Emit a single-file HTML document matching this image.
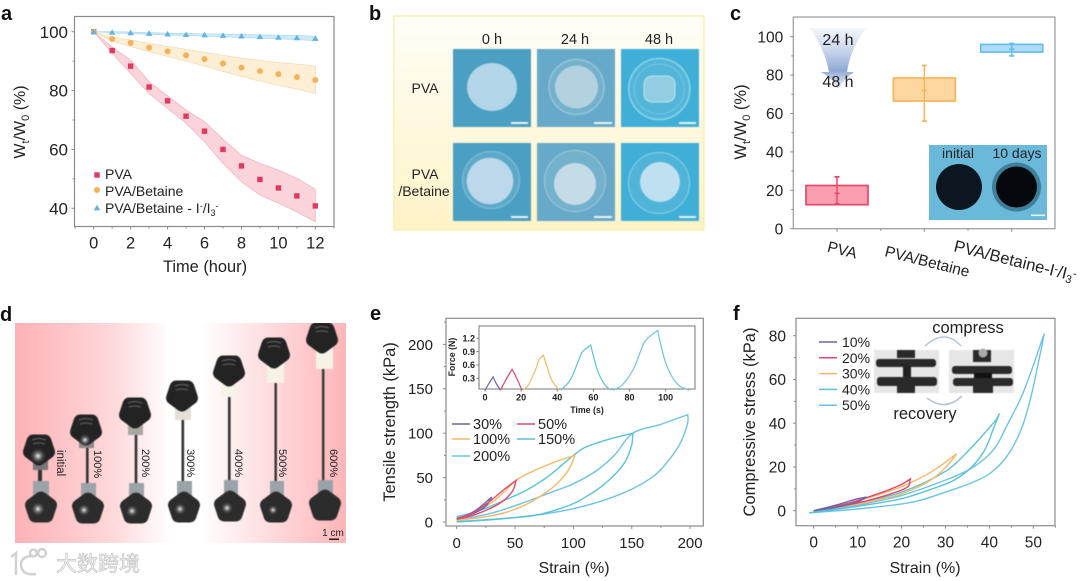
<!DOCTYPE html>
<html lang="en">
<head>
<meta charset="utf-8">
<title>Hydrogel figure</title>
<style>
html,body{margin:0;padding:0;background:#fff;}
svg{display:block;font-family:"Liberation Sans","Noto Sans CJK SC",sans-serif;fill:#222;}
.lbl{font-weight:700;font-size:20px;fill:#111;}
.pt{font-size:14.5px;fill:#222;}
.soft{filter:blur(.6px);}
</style>
</head>
<body>
<svg id="fig" xmlns="http://www.w3.org/2000/svg" width="1080" height="581" viewBox="0 0 1080 581">
<defs>
<linearGradient id="bgB" x1="0" y1="0" x2="0" y2="1"><stop offset="0" stop-color="#fffef8"/><stop offset="1" stop-color="#fff3c6"/></linearGradient>
<linearGradient id="bgD" x1="0" y1="0" x2="1" y2="0"><stop offset="0" stop-color="#fdb2b6"/><stop offset=".3" stop-color="#fed9db"/><stop offset=".47" stop-color="#fff"/><stop offset=".56" stop-color="#fff"/><stop offset="1" stop-color="#fdb5b9"/></linearGradient>
<linearGradient id="funnel" x1="0" y1="0" x2="0" y2="1"><stop offset="0" stop-color="#e4eaf6" stop-opacity=".5"/><stop offset=".7" stop-color="#8ea8d4"/><stop offset="1" stop-color="#d2dcf0" stop-opacity=".5"/></linearGradient>
<radialGradient id="glow"><stop offset="0" stop-color="#fff"/><stop offset=".35" stop-color="#aaa" stop-opacity=".7"/><stop offset="1" stop-color="#444" stop-opacity="0"/></radialGradient>
<g id="knob"><polygon points="0,-10 9.5,-3 5.9,8 -5.9,8 -9.5,-3" fill="#2c2c2c" stroke="#2c2c2c" stroke-width="13" stroke-linejoin="round"/></g>
<g id="knobTop"><polygon points="0,10 9.5,3 5.9,-8 -5.9,-8 -9.5,3" fill="#232323" stroke="#232323" stroke-width="13" stroke-linejoin="round"/><path d="M-7,-9 Q0,-12 7,-9 M-6,-5 Q0,-7 6,-5" stroke="#666" stroke-width="1.1" fill="none"/></g>
</defs>

<!-- panel labels -->
<text class="lbl" x="1" y="20">a</text>
<text class="lbl" x="369" y="20">b</text>
<text class="lbl" x="730" y="20">c</text>
<text class="lbl" x="0" y="321">d</text>
<text class="lbl" x="370" y="320">e</text>
<text class="lbl" x="733" y="320">f</text>

<!-- panel b photos -->
<g>
<rect x="394" y="16" width="310" height="214" fill="url(#bgB)" stroke="#fbeeb0" stroke-width="1.5"/>
<text class="pt" x="492" y="44" text-anchor="middle">0 h</text>
<text class="pt" x="575" y="44" text-anchor="middle">24 h</text>
<text class="pt" x="659" y="44" text-anchor="middle">48 h</text>
<text class="pt" x="425" y="93" text-anchor="middle" style="font-size:14px">PVA</text>
<text class="pt" x="425" y="179" text-anchor="middle" style="font-size:14px">PVA</text>
<text class="pt" x="424" y="196" text-anchor="middle" style="font-size:14px">/Betaine</text>

<g class="soft">
<g><rect x="453" y="49" width="78" height="78" fill="#4b9fc3"/><ellipse cx="492" cy="87" rx="25" ry="24" fill="#b2d6e8"/><rect x="511" y="122" width="17" height="2" fill="#e6f3f8"/></g>
<g><rect x="537" y="49" width="78" height="78" fill="#66a9c8"/><circle cx="576.5" cy="87" r="27.5" fill="#74b1cd" stroke="#96c6da" stroke-width="1.5"/><circle cx="576.5" cy="87" r="21.5" fill="#b3d2df"/><rect x="594" y="122" width="18" height="2" fill="#e6f3f8"/></g>
<g><rect x="621" y="49" width="78" height="78" fill="#3fafd7"/><circle cx="659.3" cy="89" r="30.5" fill="#52b5d9" stroke="#8fd3e8" stroke-width="1.5"/><circle cx="659.3" cy="89" r="25" fill="none" stroke="#78c8e2"/><rect x="644" y="76" width="31" height="26" rx="8" fill="#92cde2" stroke="#bfe4ef"/><rect x="679" y="122" width="17" height="2" fill="#e6f3f8"/></g>
<g><rect x="453" y="143" width="78" height="78" fill="#4b9fc3"/><circle cx="491" cy="180" r="28.5" fill="#5ea9ca" stroke="#86c1d8"/><circle cx="490" cy="181" r="23.3" fill="#bcd8ea"/><rect x="511" y="216" width="17" height="2" fill="#e6f3f8"/></g>
<g><rect x="537" y="143" width="78" height="78" fill="#66a9c8"/><circle cx="575" cy="181" r="30.5" fill="#74b1cd" stroke="#a0cadd"/><circle cx="575" cy="184" r="21" fill="#c5dce8"/><rect x="594" y="216" width="18" height="2" fill="#e6f3f8"/></g>
<g><rect x="621" y="143" width="78" height="78" fill="#3fafd7"/><circle cx="659" cy="183" r="30.5" fill="#50b4d8" stroke="#8cd2e6"/><circle cx="660" cy="182" r="20" fill="#bfe0f0"/><rect x="679" y="216" width="17" height="2" fill="#e6f3f8"/></g>
</g>
</g>

<!-- panel d photo -->
<g>
<rect x="15" y="323" width="331" height="220" fill="url(#bgD)"/>
<clipPath id="clipD"><rect x="15" y="323" width="331" height="220"/></clipPath>
<g clip-path="url(#clipD)">
<g class="soft">
<g><rect x="38" y="455" width="4" height="34" fill="#333"/><rect x="33" y="450" width="15" height="20" fill="#777"/><rect x="33" y="481" width="16" height="18" fill="#9aa3a8"/><use href="#knobTop" x="39" y="449"/><circle cx="38" cy="456" r="8" fill="url(#glow)"/><use href="#knob" x="41" y="508"/><circle cx="38" cy="509" r="7" fill="url(#glow)"/></g>
<g><rect x="86" y="440" width="2.6" height="50" fill="#333"/><rect x="79" y="430" width="15" height="18" fill="#8a8a88"/><rect x="81" y="483" width="15" height="18" fill="#9aa3a8"/><use href="#knobTop" x="86" y="429"/><circle cx="85" cy="440" r="6" fill="url(#glow)"/><use href="#knob" x="88" y="509"/><circle cx="84" cy="510" r="6" fill="url(#glow)"/></g>
<g><rect x="134.7" y="430" width="2.6" height="60" fill="#333"/><rect x="128" y="418" width="15" height="17" fill="#a8a8a2"/><rect x="129" y="483" width="15" height="18" fill="#9aa3a8"/><use href="#knobTop" x="135" y="412"/><use href="#knob" x="136" y="509"/><circle cx="132" cy="511" r="6" fill="url(#glow)"/></g>
<g><rect x="181.5" y="415" width="2.6" height="75" fill="#333"/><rect x="175" y="400" width="16" height="20" fill="#e2e0d8"/><rect x="177" y="481" width="15" height="18" fill="#9aa3a8"/><use href="#knobTop" x="182" y="395"/><use href="#knob" x="184" y="508"/><circle cx="180" cy="509" r="6" fill="url(#glow)"/></g>
<g><rect x="228" y="395" width="2.6" height="95" fill="#333"/><rect x="221" y="375" width="16" height="22" fill="#f6f3e6"/><rect x="224" y="480" width="14" height="18" fill="#9aa3a8"/><use href="#knobTop" x="229" y="370"/><use href="#knob" x="230" y="507"/><circle cx="227" cy="508" r="6" fill="url(#glow)"/></g>
<g><rect x="274.5" y="380" width="2.4" height="110" fill="#333"/><rect x="267" y="357" width="17" height="26" fill="#f6f3e6"/><rect x="270" y="481" width="14" height="18" fill="#9aa3a8"/><use href="#knobTop" x="274" y="352"/><use href="#knob" x="276" y="508"/><circle cx="273" cy="510" r="5" fill="url(#glow)"/></g>
<g><rect x="322" y="365" width="2.4" height="125" fill="#333"/><rect x="316" y="348" width="17" height="21" fill="#f6f3e6"/><rect x="318" y="480" width="15" height="18" fill="#9aa3a8"/><use href="#knobTop" x="322" y="337"/><use href="#knob" x="325" y="506"/></g>
</g>
<g font-size="11" fill="#222">
<text transform="translate(57,450) rotate(90)" font-size="11.5">initial</text>
<text transform="translate(94,450) rotate(90)">100%</text>
<text transform="translate(142,449) rotate(90)">200%</text>
<text transform="translate(187,449) rotate(90)">300%</text>
<text transform="translate(235,449) rotate(90)">400%</text>
<text transform="translate(279,449) rotate(90)">500%</text>
<text transform="translate(330,449) rotate(90)">600%</text>
</g>
<text x="333" y="536" text-anchor="middle" font-size="10">1 cm</text>
<rect x="329" y="538.5" width="10" height="1.4" fill="#111"/>
</g>
</g>

<!-- watermark -->
<g>
<path d="M11,557 L16,553 L16,575 M33,556 Q21,556 21,565 Q22,576 36,574 M30,553 a3.4,3.4 0 1 1 6.8,0 a3.4,3.4 0 1 1 -6.8,0 M38,553 a4,4 0 1 1 8,0 a4,4 0 1 1 -8,0" fill="none" stroke="#d0d0d0" stroke-width="2.4"/>
<text x="56" y="571" font-size="21" fill="#f4f4f4" stroke="#c6c6c6" stroke-width=".7">大数跨境</text>
</g>

<g id="chartA"></g>
<g id="chartC"></g>
<g id="chartE"></g>
<g id="chartEi"></g>
<g id="chartF"></g>

<!-- panel c annotations -->
<g>
<path d="M810,28 L866,28 Q850,50 847,72 L854,72 Q845,78 838,89 Q832,78 821,72 L829,72 Q825,50 810,28 Z" fill="url(#funnel)"/>
<text x="838" y="45" text-anchor="middle" font-size="16" fill="#222">24 h</text>
<text x="838" y="87" text-anchor="middle" font-size="16" fill="#222">48 h</text>
<g>
<rect x="929" y="145" width="118" height="75" fill="#6bb9da"/>
<text x="958" y="158" text-anchor="middle" font-size="14" fill="#222">initial</text>
<text x="1017" y="158" text-anchor="middle" font-size="14" fill="#222">10 days</text>
<circle cx="959" cy="187" r="23" fill="#0c1620"/>
<circle cx="1016.5" cy="187" r="24.5" fill="#3f7f99"/>
<circle cx="1016.5" cy="187" r="20.5" fill="#05080c"/>
<rect x="1031" y="214.5" width="14" height="1.6" fill="#e8f4f8"/>
</g>
</g>

<!-- panel f inset -->
<g>
<text x="968" y="333" text-anchor="middle" font-size="16.5" fill="#222">compress</text>
<text x="925" y="419" text-anchor="middle" font-size="16.5" fill="#222">recovery</text>
<path d="M925,346 Q945,328 961,346" fill="none" stroke="#b6c4da" stroke-width="1.6"/>
<path d="M927,398 Q945,412 962,396" fill="none" stroke="#b6c4da" stroke-width="1.6"/>
<g class="soft"><rect x="874" y="350" width="65" height="43" fill="#e6e6e6"/><rect x="897" y="350" width="18" height="8" fill="#2a2a2a"/><rect x="876" y="359" width="60" height="8" rx="3" fill="#2a2a2a"/><rect x="903" y="366" width="8" height="12" fill="#222"/><rect x="877" y="377" width="60" height="9" rx="3" fill="#2a2a2a"/><rect x="897" y="386" width="18" height="7" fill="#2a2a2a"/></g>
<g class="soft"><rect x="949" y="350" width="65" height="43" fill="#e6e6e6"/><rect x="973" y="350" width="18" height="12" fill="#2a2a2a"/><circle cx="983" cy="353" r="4.5" fill="#aaa"/><rect x="952" y="366" width="60" height="8" rx="3" fill="#2a2a2a"/><rect x="974" y="373" width="18" height="5" fill="#111"/><rect x="953" y="378" width="60" height="8" rx="3" fill="#2a2a2a"/><rect x="973" y="386" width="20" height="7" fill="#2a2a2a"/></g>
</g>

<script>
// ---- panel a data ----
const hours = [0,1,2,3,4,5,6,7,8,9,10,11,12];
const pvaMean = [100,93.6,88.3,81.2,76.5,71.3,66.2,60,54.4,49.8,46.9,44.2,40.8];
const pvaUpper = [100,94.8,90.4,83,78.2,73.4,69.4,63.5,58,55.3,53,50.2,46.5];
const pvaLower = [100,92.6,85.8,79,74,68.9,62.6,55.3,49,44.5,41.7,38.8,35.4];
const betaineMean = [100,97.5,96.2,94.6,93.3,92,90.7,89.2,87.8,86.6,85.6,84.6,83.6];
const betaineUpper = [100,98.2,97.2,96,95,94,93,92,91,90.3,89.5,89,88.3];
const betaineLower = [100,96.8,95,93.2,91.6,90,88.3,86.5,84.8,83.2,81.8,80.5,79];
const iodineMean = [100,99.8,99.6,99.4,99.2,99,98.9,98.7,98.5,98.3,98.1,97.9,97.7];
const iodineUpper = [100,100,99.9,99.7,99.5,99.4,99.3,99.2,99.1,98.9,98.8,98.7,98.5];
const iodineLower = [100,99.6,99.3,99.1,98.9,98.7,98.5,98.3,98,97.8,97.6,97.3,97];
const aXTicks = [0,2,4,6,8,10,12];
const aYTicks = [40,60,80,100];
// ---- panel c data ----
const cCategories = ['PVA','PVA/Betaine','PVA/Betaine-I'];
const cQ1 = [12.5,66.5,92];
const cQ3 = [22.5,78.5,96];
const cWhiskerLow = [12.9,56,90];
const cWhiskerHigh = [27,85,96.5];
const cMedian = [18.4,72,93.5];
const cYTicks = [0,20,40,60,80,100];
// ---- panel e data ----
const eXTicks = [0,50,100,150,200];
const eYTicks = [0,50,100,150,200];
const e30Strain = [0,15,30,25,15,0];
const e30Stress = [3,12,28,18,10,4];
const e50Strain = [0,15,30,40,51,48,40,30,15,0];
const e50Stress = [3,11,25,36,47,35,24,16,8,3];
const e100Strain = [0,15,30,40,51,65,85,101,100,95,85,75,60,40,20,0];
const e100Stress = [4,10,22,33,47,57,68,75,70,57,42,32,20,10,5,2];
const e150Strain = [0,20,40,60,80,100,110,130,151,150,146,140,126,111,97,69,40,0];
const e150Stress = [6,13,24,36,53,75,84,93,100,87,72,60,42,28.5,19,8,4,0.5];
const e200Strain = [0,30,60,80,100,120,135,151,175,198,198,192,182,170,150,125,100,75,50,25,0];
const e200Stress = [2,10,23,33,43,58,75,100,110,121,112,90,70,53,37,24,15,9,5,2,0];
const eLegendLabels = ['30%','50%','100%','150%','200%'];
// ---- panel e inset data ----
const iXTicks = [0,20,40,60,80,100];
const iYTicks = [0.3,0.6,0.9,1.2];
const iTime30 = [0,2,4.5,6,8.5];
const iForce30 = [0.03,0.17,0.33,0.2,0.03];
const iTime50 = [8.5,12,15,17,20.5];
const iForce50 = [0.03,0.3,0.5,0.35,0.03];
const iTime100 = [21,24,28,30,32.3,34,37,41];
const iForce100 = [0.03,0.15,0.5,0.72,0.82,0.6,0.25,0.03];
const iTime150 = [42,47,52,54,58.5,60,63,67,70];
const iForce150 = [0.03,0.25,0.72,0.9,1.05,0.8,0.4,0.12,0.03];
const iTime200 = [71,76,82,86,88,90,95.5,97,100,104,108,113];
const iForce200 = [0.03,0.15,0.5,0.9,1.1,1.2,1.38,1.1,0.65,0.3,0.12,0.03];
// ---- panel f data ----
const fXTicks = [0,10,20,30,40,50];
const fYTicks = [0,20,40,60,80];
const f10Strain = [0,5,10,12,10,5,0];
const f10Stress = [0,2.5,5.5,6.2,4,1.5,0];
const f20Strain = [0,8,15,20,22,21.5,18,12,6,0];
const f20Stress = [0,3.5,8,12,14.5,11,8,4.5,2,0];
const f30Strain = [0,10,20,27,32.5,31,28,24,18,10,0];
const f30Stress = [0,4.5,11,18,26,22,16,11,6.5,3,0];
const f40Strain = [-1,10,20,30,35,41.5,42.3,41,39,36,32,27,20,10,-1];
const f40Stress = [-1,3.5,8.5,18,27,41.5,44.5,38,28,20,14,10,5.5,2,-1];
const f50Strain = [-1,10,20,30,36,41,44,47.7,52.5,51.5,49.2,47,43.9,40.1,35.6,30.3,22.7,11,-1];
const f50Stress = [-1,2.5,7,14,19.5,28,39,54,81,71,50,36,24.7,17,12.5,8.7,4,1,-1];
const fLegendLabels = ['10%','20%','30%','40%','50%'];

const NS = 'http://www.w3.org/2000/svg';
function mk(tag, attrs, parent, name) {
  const el = document.createElementNS(NS, tag);
  for (const k in attrs) el.setAttribute(k, attrs[k]);
  
  
  parent.appendChild(el);
  return el;
}
function txt(s, x, y, size, anchor, parent, name) {
  const t = mk('text', {x: x, y: y, 'font-size': size, 'text-anchor': anchor, fill: '#222'}, parent, name);
  t.textContent = s;
  return t;
}
// smooth curve through points in pixel space; the loop turnaround stays a sharp cusp
function segment(p) {
  const unit = i => {
    const a = p[Math.max(i - 1, 0)], c = p[Math.min(i + 1, p.length - 1)];
    const dx = c[0] - a[0], dy = c[1] - a[1], n = Math.hypot(dx, dy) || 1;
    return [dx / n, dy / n];
  };
  let d = '';
  for (let i = 0; i < p.length - 1; i++) {
    const b = p[i], c = p[i + 1], L = Math.hypot(c[0] - b[0], c[1] - b[1]) / 3;
    const u = unit(i), v = unit(i + 1);
    d += 'C' + (b[0] + u[0] * L).toFixed(1) + ',' + (b[1] + u[1] * L).toFixed(1) + ' ' +
      (c[0] - v[0] * L).toFixed(1) + ',' + (c[1] - v[1] * L).toFixed(1) + ' ' +
      c[0].toFixed(1) + ',' + c[1].toFixed(1);
  }
  return d;
}
function smooth(xs, ys, sx, sy, splitOnY) {
  const p = xs.map((v, i) => [sx(v), sy(ys[i])]);
  const key = splitOnY ? ys : xs;
  const peak = key.indexOf(Math.max.apply(null, key));
  return 'M' + p[0][0].toFixed(1) + ',' + p[0][1].toFixed(1) + segment(p.slice(0, peak + 1)) + segment(p.slice(peak));
}
// frame, ticks and tick labels for one plot
function frame(g, box, sx, sy, xt, yt, xMinor, yMinor, opt, prefix) {
  mk('rect', {x: box.l, y: box.t, width: box.r - box.l, height: box.b - box.t, fill: opt.fill || 'none', stroke: opt.color, 'stroke-width': opt.sw}, g, prefix + '-frame');
  xMinor.forEach(v => mk('line', {x1: sx(v), x2: sx(v), y1: box.b, y2: box.b + opt.minor, stroke: opt.color, 'stroke-width': 1}, g, prefix + '-x-minor-tick'));
  yMinor.forEach(v => mk('line', {x1: box.l, x2: box.l - opt.minor, y1: sy(v), y2: sy(v), stroke: opt.color, 'stroke-width': 1}, g, prefix + '-y-minor-tick'));
  xt.forEach(v => {
    mk('line', {x1: sx(v), x2: sx(v), y1: box.b, y2: box.b + opt.major, stroke: opt.color, 'stroke-width': 1}, g, prefix + '-x-tick');
    txt(String(v), sx(v), box.b + opt.xgap, opt.xsize || opt.size, 'middle', g, prefix + '-x-tick-label');
  });
  yt.forEach(v => {
    mk('line', {x1: box.l, x2: box.l - opt.major, y1: sy(v), y2: sy(v), stroke: opt.color, 'stroke-width': 1}, g, prefix + '-y-tick');
    txt(String(v), box.l - opt.ygap, sy(v) + opt.size * 0.36, opt.size, 'end', g, prefix + '-y-tick-label');
  });
}
function vTitle(g, cx, cy, size, name, parts) {
  const t = mk('text', {transform: 'translate(' + cx + ',' + cy + ') rotate(-90)', 'font-size': size, 'text-anchor': 'middle', fill: '#222'}, g, name);
  parts.forEach(p => {
    const s = document.createElementNS(NS, 'tspan');
    s.setAttribute('dy', p[1]);
    if (p[2]) s.setAttribute('font-size', p[2]);
    s.textContent = p[0];
    t.appendChild(s);
  });
}

// ---------- panel a ----------
(function () {
  const g = document.getElementById('chartA');
  const box = {l: 74.5, r: 334, t: 16.5, b: 226.5};
  const sx = v => 93.7 + v * 18.47;
  const sy = v => 31.7 + (100 - v) * 2.943;
  frame(g, box, sx, sy, aXTicks, aYTicks, [-1,1,3,5,7,9,11,13], [50,70,90], {color: '#8a8a8a', sw: 1.2, minor: 2, major: 3, xgap: 22, ygap: 6.5, size: 17, xsize: 16.5}, 'a');
  txt('Time (hour)', 205, 272, 16.4, 'middle', g, 'a-x-axis-title');
  vTitle(g, 25, 122, 16, 'a-y-axis-title', [['W',0],['t',4,11],['/W',-4],['0',4,11],[' (%)',-4]]);
  function band(up, lo, fill, line, name) {
    const pts = hours.map((h, i) => sx(h) + ',' + sy(up[i])).concat(hours.map((h, i) => sx(h) + ',' + sy(lo[i])).reverse());
    mk('polygon', {points: pts.join(' '), fill: fill, stroke: line, 'stroke-width': 0.6}, g, name);
  }
  band(pvaUpper, pvaLower, '#fbd3da', '#eeaab8', 'pva-band');
  band(betaineUpper, betaineLower, '#fdeed6', '#f2d5a6', 'betaine-band');
  band(iodineUpper, iodineLower, '#cfe9f6', '#a4d6ee', 'iodine-band');
  const sq = (x, y, n) => mk('rect', {x: x - 2.7, y: y - 2.7, width: 5.4, height: 5.4, fill: '#e0395f'}, g, n);
  const ci = (x, y, n) => mk('circle', {cx: x, cy: y, r: 3, fill: '#f6b258'}, g, n);
  const tr = (x, y, n) => mk('polygon', {points: x + ',' + (y - 3.2) + ' ' + (x + 3.3) + ',' + (y + 2.4) + ' ' + (x - 3.3) + ',' + (y + 2.4), fill: '#62b5e2'}, g, n);
  hours.forEach((h, i) => {
    sq(sx(h), sy(pvaMean[i]), 'pva-point');
    ci(sx(h), sy(betaineMean[i]), 'betaine-point');
    tr(sx(h), sy(iodineMean[i]), 'iodine-point');
  });
  sq(97, 175, 'legend-marker-pva');
  txt('PVA', 105, 179, 14, 'start', g, 'legend-label-pva');
  ci(97, 190, 'legend-marker-betaine');
  txt('PVA/Betaine', 105, 196, 14, 'start', g, 'legend-label-betaine');
  tr(97, 208, 'legend-marker-iodine');
  const t = txt('', 105, 213, 14, 'start', g, 'legend-label-iodine');
  [['PVA/Betaine - I',0],['-',-4,9],['/I',4],['3',3,9],['-',-7,9]].forEach(p => {
    const s = document.createElementNS(NS, 'tspan');
    s.setAttribute('dy', p[1]);
    if (p[2]) s.setAttribute('font-size', p[2]);
    s.textContent = p[0];
    t.appendChild(s);
  });
})();

// ---------- panel c ----------
(function () {
  const g = document.getElementById('chartC');
  const box = {l: 793.3, r: 1055, t: 17, b: 228.7};
  const cx = i => 837 + i * 87.35;
  const sy = v => 228.7 - v * 1.92;
  mk('rect', {x: box.l, y: box.t, width: box.r - box.l, height: box.b - box.t, fill: 'none', stroke: '#9a9a9a', 'stroke-width': 1.2}, g, 'c-frame');
  cYTicks.forEach(v => {
    mk('line', {x1: box.l, x2: box.l - 3, y1: sy(v), y2: sy(v), stroke: '#888'}, g, 'c-y-tick');
    txt(String(v), box.l - 10, sy(v) + 5.6, 15.5, 'end', g, 'c-y-tick-label');
  });
  [10,30,50,70,90].forEach(v => mk('line', {x1: box.l, x2: box.l - 2, y1: sy(v), y2: sy(v), stroke: '#888'}, g, 'c-y-minor-tick'));
  vTitle(g, 746, 122, 16.5, 'c-y-axis-title', [['W',0],['t',4,11],['/W',-4],['0',4,11],[' (%)',-4]]);
  const fills = ['#fb9fb0','#fdd79f','#afdcf6'];
  const lines = ['#e8476a','#f6b45c','#66bdee'];
  const names = ['pva','betaine','iodine'];
  cCategories.forEach((c, i) => {
    const x = cx(i);
    mk('line', {x1: x, x2: x, y1: box.b, y2: box.b + 3, stroke: '#888'}, g, 'c-x-tick');
    if (i < 2) mk('line', {x1: x + 43.7, x2: x + 43.7, y1: box.b, y2: box.b + 2, stroke: '#888'}, g, 'c-x-minor-tick');
    mk('rect', {x: x - 31, y: sy(cQ3[i]), width: 62, height: sy(cQ1[i]) - sy(cQ3[i]), fill: fills[i], stroke: lines[i], 'stroke-width': 1.7}, g, 'box-' + names[i]);
    mk('line', {x1: x, x2: x, y1: sy(cWhiskerLow[i]), y2: sy(cWhiskerHigh[i]), stroke: lines[i], 'stroke-width': 1.5}, g, 'whisker-' + names[i]);
    mk('line', {x1: x - 2.5, x2: x + 2.5, y1: sy(cWhiskerLow[i]), y2: sy(cWhiskerLow[i]), stroke: lines[i], 'stroke-width': 1.8}, g, 'whisker-low-cap-' + names[i]);
    mk('line', {x1: x - 2.5, x2: x + 2.5, y1: sy(cWhiskerHigh[i]), y2: sy(cWhiskerHigh[i]), stroke: lines[i], 'stroke-width': 1.8}, g, 'whisker-high-cap-' + names[i]);
    mk('line', {x1: x - 2.5, x2: x + 2.5, y1: sy(cMedian[i]), y2: sy(cMedian[i]), stroke: lines[i], 'stroke-width': 1.8}, g, 'median-' + names[i]);
  });
  const anchors = [[841,255],[884,256],[953,251]];
  cCategories.forEach((c, i) => {
    const t = mk('text', {transform: 'translate(' + anchors[i][0] + ',' + anchors[i][1] + ') rotate(14)', 'font-size': i === 2 ? 16.6 : 15.5, 'text-anchor': 'start', fill: '#222'}, g, 'c-x-tick-label');
    t.setAttribute('text-anchor', i === 0 ? 'middle' : 'start');
    t.textContent = c;
    if (i === 2) {
      [['-',-4,11],['/I',4],['3',3,11],['-',-7,11]].forEach(p => {
        const s = document.createElementNS(NS, 'tspan');
        s.setAttribute('dy', p[1]);
        if (p[2]) s.setAttribute('font-size', p[2]);
        s.textContent = p[0];
        t.appendChild(s);
      });
    }
  });
})();

// ---------- panel e ----------
(function () {
  const g = document.getElementById('chartE');
  const box = {l: 446, r: 703.3, t: 318.3, b: 526};
  const sx = v => 456.7 + v * 1.167;
  const sy = v => 522 - v * 0.888;
  frame(g, box, sx, sy, eXTicks, eYTicks, [25,75,125,175], [25,75,125,175,225], {color: '#8a8a8a', sw: 1.2, minor: 2, major: 3, xgap: 22, ygap: 13, size: 15}, 'e');
  txt('Strain (%)', 574, 573, 16, 'middle', g, 'e-x-axis-title');
  vTitle(g, 395, 422, 16.5, 'e-y-axis-title', [['Tensile strength (kPa)',0]]);
  const colors = {c30: '#6a66aa', c50: '#e5486c', c100: '#f6b765', c150: '#5ac2d6', c200: '#6cc3e8'};
  mk('path', {d: smooth(e200Strain, e200Stress, sx, sy), fill: 'none', stroke: colors.c200, 'stroke-width': 1.4}, g, 'curve-200');
  mk('path', {d: smooth(e150Strain, e150Stress, sx, sy), fill: 'none', stroke: colors.c150, 'stroke-width': 1.4}, g, 'curve-150');
  mk('path', {d: smooth(e100Strain, e100Stress, sx, sy), fill: 'none', stroke: colors.c100, 'stroke-width': 1.4}, g, 'curve-100');
  mk('path', {d: smooth(e30Strain, e30Stress, sx, sy), fill: 'none', stroke: colors.c30, 'stroke-width': 1.4}, g, 'curve-30');
  mk('path', {d: smooth(e50Strain, e50Stress, sx, sy), fill: 'none', stroke: colors.c50, 'stroke-width': 1.4}, g, 'curve-50');
  const cols = [colors.c30, colors.c50, colors.c100, colors.c150, colors.c200];
  eLegendLabels.forEach((l, i) => {
    const col = i === 4 ? 0 : i % 2;
    const row = Math.floor(i / 2);
    const lx = col ? 517 : 452;
    const ly = [424, 439, 456][row];
    mk('line', {x1: lx, x2: lx + 18, y1: ly, y2: ly, stroke: cols[i], 'stroke-width': 1.5}, g, 'e-legend-line-' + l);
    txt(l, lx + 21, ly + 5, 14.5, 'start', g, 'e-legend-label-' + l);
  });
})();

// ---------- panel e inset ----------
(function () {
  const g = document.getElementById('chartEi');
  const box = {l: 479, r: 695, t: 326, b: 389};
  const sx = v => 485 + v * 1.807;
  const sy = v => 338.3 + (1.2 - v) * 44.4;
  mk('rect', {x: box.l, y: box.t, width: box.r - box.l, height: box.b - box.t, fill: '#fff', stroke: '#777', 'stroke-width': 1}, g, 'inset-frame');
  iXTicks.forEach(v => {
    mk('line', {x1: sx(v), x2: sx(v), y1: box.b, y2: box.b + 2.5, stroke: '#777'}, g, 'inset-x-tick');
    const t = txt(String(v), sx(v), box.b + 11.5, 9, 'middle', g, 'inset-x-tick-label');
    t.setAttribute('font-weight', '700');
  });
  iYTicks.forEach(v => {
    mk('line', {x1: box.l, x2: box.l - 2.5, y1: sy(v), y2: sy(v), stroke: '#777'}, g, 'inset-y-tick');
    const t = txt(v.toFixed(1), box.l - 4, sy(v) + 3.2, 9, 'end', g, 'inset-y-tick-label');
    t.setAttribute('font-weight', '700');
  });
  const xt = txt('Time (s)', 587, 413, 8.8, 'middle', g, 'inset-x-axis-title');
  xt.setAttribute('font-weight', '700');
  const yt = mk('text', {transform: 'translate(455,357) rotate(-90)', 'font-size': 8.8, 'font-weight': 700, 'text-anchor': 'middle', fill: '#222'}, g, 'inset-y-axis-title');
  yt.textContent = 'Force (N)';
  mk('path', {d: smooth(iTime30, iForce30, sx, sy, true), fill: 'none', stroke: '#6a66aa', 'stroke-width': 1.2}, g, 'inset-curve-30');
  mk('path', {d: smooth(iTime50, iForce50, sx, sy, true), fill: 'none', stroke: '#e5486c', 'stroke-width': 1.2}, g, 'inset-curve-50');
  mk('path', {d: smooth(iTime100, iForce100, sx, sy, true), fill: 'none', stroke: '#f6b765', 'stroke-width': 1.2}, g, 'inset-curve-100');
  mk('path', {d: smooth(iTime150, iForce150, sx, sy, true), fill: 'none', stroke: '#5ac2d6', 'stroke-width': 1.2}, g, 'inset-curve-150');
  mk('path', {d: smooth(iTime200, iForce200, sx, sy, true), fill: 'none', stroke: '#6cc3e8', 'stroke-width': 1.2}, g, 'inset-curve-200');
})();

// ---------- panel f ----------
(function () {
  const g = document.getElementById('chartF');
  const box = {l: 796, r: 1055, t: 318.3, b: 525.7};
  const sx = v => 813.7 + v * 4.393;
  const sy = v => 510.7 - v * 2.1875;
  frame(g, box, sx, sy, fXTicks, fYTicks, [5,15,25,35,45,55], [10,30,50,70], {color: '#8a8a8a', sw: 1.2, minor: 2, major: 3, xgap: 22, ygap: 10, size: 15.5}, 'f');
  txt('Strain (%)', 925, 573, 16, 'middle', g, 'f-x-axis-title');
  vTitle(g, 755, 422, 16.5, 'f-y-axis-title', [['Compressive stress (kPa)',0]]);
  const cols = ['#6a66aa','#e5486c','#f6b765','#5ac2d6','#6cc3e8'];
  mk('path', {d: smooth(f50Strain, f50Stress, sx, sy), fill: 'none', stroke: cols[4], 'stroke-width': 1.4}, g, 'f-curve-50');
  mk('path', {d: smooth(f40Strain, f40Stress, sx, sy), fill: 'none', stroke: cols[3], 'stroke-width': 1.4}, g, 'f-curve-40');
  mk('path', {d: smooth(f30Strain, f30Stress, sx, sy), fill: 'none', stroke: cols[2], 'stroke-width': 1.4}, g, 'f-curve-30');
  mk('path', {d: smooth(f20Strain, f20Stress, sx, sy), fill: 'none', stroke: cols[1], 'stroke-width': 1.4}, g, 'f-curve-20');
  mk('path', {d: smooth(f10Strain, f10Stress, sx, sy), fill: 'none', stroke: cols[0], 'stroke-width': 1.4}, g, 'f-curve-10');
  fLegendLabels.forEach((l, i) => {
    const ly = 342 + i * 15.8;
    mk('line', {x1: 819, x2: 837, y1: ly, y2: ly, stroke: cols[i], 'stroke-width': 1.5}, g, 'f-legend-line-' + l);
    txt(l, 842, ly + 5, 14, 'start', g, 'f-legend-label-' + l);
  });
})();
</script>
</svg>
</body>
</html>
